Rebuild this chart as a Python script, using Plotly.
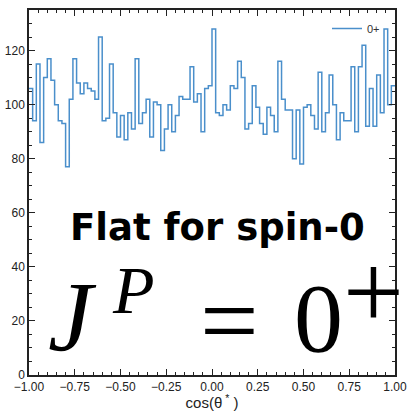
import numpy as np
import plotly.graph_objects as go

# Histogram of cos(theta*) for J^P = 0+, 100 bins on [-1, 1]
x_range = [-1.0, 1.0]
n_bins = 100
counts = [
    106, 94, 115, 86, 110, 117, 109, 100, 94, 93,
    77, 102, 117, 108, 104, 108, 106, 105, 102, 125,
    94, 95, 115, 97, 88, 96, 87, 97, 91, 117,
    93, 97, 102, 88, 101, 100, 83, 91, 100, 90,
    96, 103, 102, 102, 114, 101, 104, 90, 106, 107,
    128, 97, 96, 100, 98, 107, 106, 116, 110, 91,
    93, 107, 99, 93, 89, 99, 96, 90, 116, 102,
    98, 98, 80, 98, 78, 99, 100, 96, 91, 112,
    90, 97, 111, 100, 87, 97, 94, 94, 114, 90,
    114, 122, 92, 106, 92, 111, 97, 128, 100, 107,
]
series_name = "0+"
x_ticks = [-1.0, -0.75, -0.5, -0.25, 0.0, 0.25, 0.5, 0.75, 1.0]
y_ticks = [0, 20, 40, 60, 80, 100, 120]
y_range = [0, 135]

edges = np.linspace(x_range[0], x_range[1], n_bins + 1)
step_y = list(counts) + [counts[-1]]

fig = go.Figure()
fig.add_trace(go.Scatter(
    x=edges, y=step_y, mode="lines", line_shape="hv",
    line=dict(color="#4a8fcb", width=1.5), name=series_name, showlegend=True,
))

axis_common = dict(
    showline=True, linecolor="#222", linewidth=1.5, mirror="allticks",
    ticks="inside", tickcolor="#222", ticklen=6, tickwidth=1,
    showgrid=False, zeroline=False, automargin=False,
    tickfont=dict(family="Liberation Sans", size=12, color="#222"),
)

fig.update_xaxes(
    range=x_range, tickvals=x_ticks, tickformat=".2f",
    minor=dict(ticks="inside", dtick=0.05, tick0=-1, ticklen=3, tickcolor="#222"),
    title=dict(text="cos(θ<sup> *</sup> )", font=dict(family="Liberation Sans", size=15, color="#222"), standoff=6),
    **axis_common,
)
fig.update_yaxes(
    range=y_range, tickvals=y_ticks,
    minor=dict(ticks="inside", dtick=5, tick0=0, ticklen=3, tickcolor="#222"),
    **axis_common,
)

def px_x(p):
    return (p - 29) / 366

def px_y(p):
    return (375 - p) / 365

annots = [
    dict(text="<b>Flat for spin-0</b>", x=px_x(217), y=px_y(227),
         font=dict(family="DejaVu Sans", size=37, color="black")),
    dict(text="<i>J</i>", x=px_x(72), y=px_y(316),
         font=dict(family="Liberation Serif", size=100, color="black")),
    dict(text="<i>P</i>", x=px_x(133), y=px_y(290),
         font=dict(family="Liberation Serif", size=68, color="black")),
    dict(text="=", x=px_x(229), y=px_y(320),
         font=dict(family="Liberation Serif", size=104, color="black")),
    dict(text="0", x=px_x(318), y=px_y(318),
         font=dict(family="Liberation Serif", size=98, color="black")),
    dict(text="+", x=px_x(373), y=px_y(291),
         font=dict(family="Liberation Serif", size=108, color="black")),
]
for a in annots:
    fig.add_annotation(xref="paper", yref="paper", showarrow=False,
                       xanchor="center", yanchor="middle", **a)

fig.update_layout(
    width=408, height=411,
    margin=dict(l=29, r=13, t=10, b=36),
    paper_bgcolor="white", plot_bgcolor="white",
    legend=dict(x=px_x(327), y=px_y(14), xanchor="left", yanchor="top",
                bgcolor="rgba(0,0,0,0)", itemwidth=30,
                font=dict(family="Liberation Sans", size=11, color="#333")),
    showlegend=True,
)

fig.write_html("out.html")
